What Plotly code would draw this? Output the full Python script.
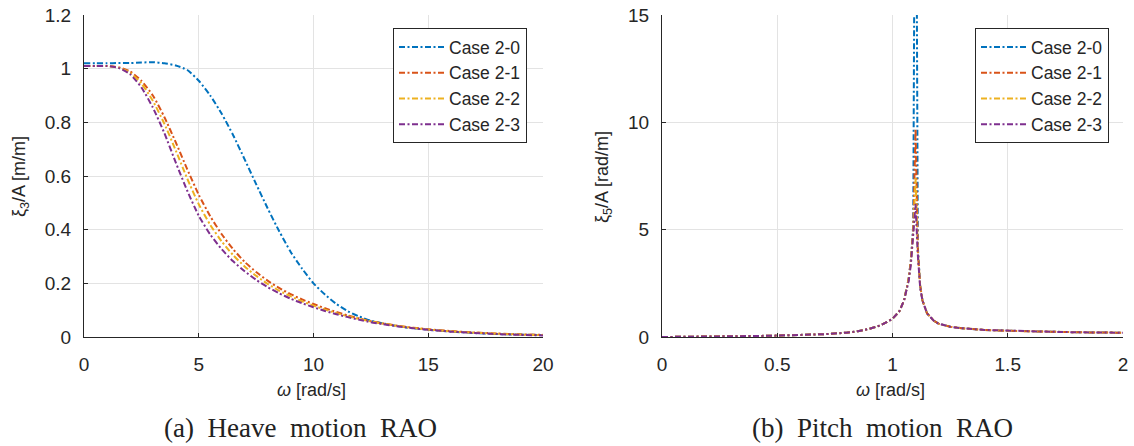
import plotly.graph_objects as go

# ---------------- data ----------------
case_names = ["Case 2-0", "Case 2-1", "Case 2-2", "Case 2-3"]
case_colors = ["#0072BD", "#D95319", "#EDB120", "#7E2F8E"]

heave_w = [0, 0.5, 1, 1.5, 2, 2.5, 3, 3.5, 4, 4.5, 5, 5.5, 6, 6.5, 7, 7.5, 8, 8.5, 9, 9.5,
           10, 10.5, 11, 11.5, 12, 12.5, 13, 14, 15, 16, 17, 18, 19, 20]
heave_20 = [1.02, 1.02, 1.02, 1.021, 1.021, 1.023, 1.024, 1.02, 1.012, 0.995, 0.955, 0.9, 0.832,
            0.752, 0.662, 0.57, 0.48, 0.395, 0.318, 0.255, 0.2, 0.158, 0.123, 0.096, 0.076,
            0.061, 0.051, 0.036, 0.027, 0.02, 0.015, 0.011, 0.009, 0.007]
heave_21 = [1.01, 1.01, 1.01, 1.005, 0.99, 0.955, 0.9, 0.82, 0.725, 0.625, 0.53, 0.45, 0.383,
            0.327, 0.28, 0.242, 0.21, 0.183, 0.16, 0.14, 0.123, 0.107, 0.093, 0.08, 0.069,
            0.059, 0.051, 0.038, 0.029, 0.022, 0.017, 0.013, 0.01, 0.008]
heave_22 = [1.01, 1.01, 1.01, 1.004, 0.985, 0.945, 0.88, 0.795, 0.695, 0.59, 0.495, 0.418, 0.356,
            0.305, 0.263, 0.228, 0.198, 0.173, 0.152, 0.133, 0.117, 0.102, 0.089, 0.077, 0.067,
            0.058, 0.05, 0.037, 0.028, 0.021, 0.016, 0.012, 0.009, 0.007]
heave_23 = [1.01, 1.01, 1.01, 1.003, 0.98, 0.93, 0.855, 0.76, 0.65, 0.545, 0.452, 0.382, 0.327,
            0.282, 0.245, 0.213, 0.186, 0.163, 0.143, 0.126, 0.111, 0.097, 0.085, 0.074, 0.064,
            0.055, 0.048, 0.036, 0.027, 0.02, 0.015, 0.011, 0.008, 0.006]

pitch_w = [0, 0.1, 0.2, 0.3, 0.4, 0.5, 0.6, 0.7, 0.8, 0.85, 0.9, 0.95, 1.0, 1.03, 1.05, 1.07,
           1.08, 1.09, 1.1, 1.11, 1.12, 1.13, 1.15, 1.18, 1.2, 1.25, 1.3, 1.4, 1.5, 1.6, 1.7,
           1.8, 1.9, 2.0]
pitch_20 = [0, 0.005, 0.015, 0.03, 0.045, 0.065, 0.09, 0.13, 0.2, 0.27, 0.38, 0.55, 0.85, 1.2,
            1.7, 2.7, 3.6, 5.2, 30.0, 4.2, 2.4, 1.7, 1.1, 0.75, 0.62, 0.48, 0.41, 0.33, 0.29,
            0.26, 0.24, 0.22, 0.21, 0.2]
pitch_21 = [0, 0.005, 0.015, 0.03, 0.045, 0.065, 0.09, 0.13, 0.2, 0.27, 0.38, 0.55, 0.85, 1.2,
            1.7, 2.7, 3.6, 5.0, 9.7, 4.0, 2.4, 1.7, 1.1, 0.75, 0.62, 0.48, 0.41, 0.33, 0.29,
            0.26, 0.24, 0.22, 0.21, 0.2]
pitch_22 = [0, 0.005, 0.015, 0.03, 0.045, 0.065, 0.09, 0.13, 0.2, 0.27, 0.38, 0.55, 0.85, 1.2,
            1.7, 2.7, 3.5, 4.9, 7.4, 3.9, 2.4, 1.7, 1.1, 0.75, 0.62, 0.48, 0.41, 0.33, 0.29,
            0.26, 0.24, 0.22, 0.21, 0.2]
pitch_23 = [0, 0.005, 0.015, 0.03, 0.045, 0.065, 0.09, 0.13, 0.2, 0.27, 0.38, 0.55, 0.85, 1.2,
            1.7, 2.6, 3.4, 4.7, 6.2, 3.8, 2.3, 1.7, 1.1, 0.75, 0.62, 0.48, 0.41, 0.33, 0.29,
            0.26, 0.24, 0.22, 0.21, 0.2]

heave_x_ticks = [0, 5, 10, 15, 20]
heave_y_ticks = [0, 0.2, 0.4, 0.6, 0.8, 1, 1.2]
pitch_x_ticks = [0, 0.5, 1, 1.5, 2]
pitch_y_ticks = [0, 5, 10, 15]

# ---------------- layout geometry (page pixels) ----------------
W, H = 1134, 446
def px(x):
    return x / W
def py(y):
    return (H - y) / H

DASH = "6px,2.5px,2px,2.5px"
FONT = "Liberation Sans, Arial, sans-serif"
SERIF = "Liberation Serif, DejaVu Serif, serif"
TXT = "#262626"

fig = go.Figure()
heave = [heave_20, heave_21, heave_22, heave_23]
pitch = [pitch_20, pitch_21, pitch_22, pitch_23]
for i in range(4):
    fig.add_trace(go.Scatter(x=heave_w, y=heave[i], mode="lines", name=case_names[i],
                             line=dict(color=case_colors[i], width=2, dash=DASH, shape="spline", smoothing=0.6),
                             xaxis="x", yaxis="y", legend="legend"))
for i in range(4):
    fig.add_trace(go.Scatter(x=pitch_w, y=pitch[i], mode="lines", name=case_names[i],
                             line=dict(color=case_colors[i], width=2, dash=DASH),
                             xaxis="x2", yaxis="y2", legend="legend2"))

ax_common = dict(showgrid=True, gridcolor="#e3e3e3", gridwidth=1, zeroline=False,
                 showline=True, linecolor=TXT, linewidth=1, ticks="inside", ticklen=4,
                 tickcolor=TXT, tickfont=dict(family=FONT, size=19, color=TXT),
                 mirror=False, automargin=False, ticklabeloverflow="allow")

leg_common = dict(xanchor="left", yanchor="top", bgcolor="white",
                  bordercolor=TXT, borderwidth=1, font=dict(family=FONT, size=17.5, color=TXT),
                  itemwidth=45, tracegroupgap=0)

fig.update_layout(
    width=W, height=H, margin=dict(l=0, r=0, t=0, b=0, autoexpand=False),
    paper_bgcolor="white", plot_bgcolor="white",
    xaxis=dict(domain=[px(84), px(543)], range=[0, 20], tickvals=heave_x_ticks, anchor="y",
               ticklabelstandoff=10, **ax_common),
    yaxis=dict(domain=[py(337), py(15)], range=[0, 1.2], tickvals=heave_y_ticks, anchor="x",
               ticklabelstandoff=8, **ax_common),
    xaxis2=dict(domain=[px(662), px(1123)], range=[0, 2], tickvals=pitch_x_ticks, anchor="y2",
                ticklabelstandoff=10, **ax_common),
    yaxis2=dict(domain=[py(337), py(15)], range=[0, 15], tickvals=pitch_y_ticks, anchor="x2",
                ticklabelstandoff=8, **ax_common),
    legend=dict(x=px(393), y=py(28), **leg_common),
    legend2=dict(x=px(975), y=py(28), **leg_common),
    showlegend=True,
)

def ann(text, x, y, font, angle=0):
    return dict(text=text, x=px(x), y=py(y), xref="paper", yref="paper",
                xanchor="center", yanchor="middle", showarrow=False,
                textangle=angle, font=font)

lab = dict(family=FONT, size=18, color=TXT)
cap = dict(family=SERIF, size=27, color="#222222")
annotations = [
    ann("<i>ω</i> [rad/s]", 311, 390, lab),
    ann("<i>ω</i> [rad/s]", 890, 390, lab),
    ann("ξ<sub>3</sub>/A [m/m]", 20, 177, lab, -90),
    ann("ξ<sub>5</sub>/A [rad/m]", 603, 177, lab, -90),
    ann("(a)  Heave  motion  RAO", 300, 428, cap),
    ann("(b)  Pitch  motion  RAO", 882, 428, cap),
]
fig.update_layout(annotations=annotations)

fig.write_html("out.html", config={"displayModeBar": False},
               post_script="document.body.style.margin='0';document.body.style.overflow='hidden';")
